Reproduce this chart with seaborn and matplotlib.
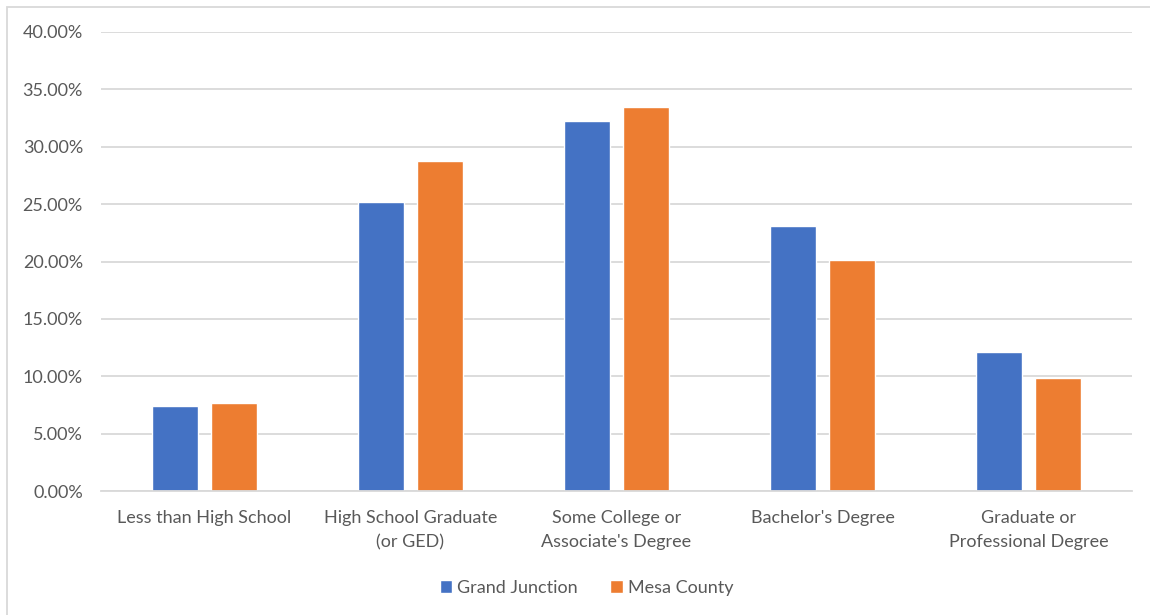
import matplotlib
matplotlib.use("Agg")
import matplotlib.pyplot as plt
from matplotlib.patches import Rectangle
from matplotlib.ticker import FuncFormatter
import seaborn as sns
import pandas as pd

# Educational attainment shares (percent of adults 25+)
categories = [
    "Less than High School",
    "High School Graduate\n(or GED)",
    "Some College or\nAssociate's Degree",
    "Bachelor's Degree",
    "Graduate or\nProfessional Degree",
]
grand_junction = [7.38, 25.18, 32.22, 23.08, 12.07]
mesa_county = [7.67, 28.80, 33.47, 20.17, 9.85]
series_names = ["Grand Junction", "Mesa County"]
y_ticks = [0, 5, 10, 15, 20, 25, 30, 35, 40]

df = pd.DataFrame({
    "Category": categories * 2,
    "Area": [series_names[0]] * len(categories) + [series_names[1]] * len(categories),
    "Share": grand_junction + mesa_county,
})

sns.set_theme(style="white")
plt.rcParams["font.family"] = ["Lato", "DejaVu Sans"]

TEXT = "#595959"
GRID = "#d9d9d9"
palette = {series_names[0]: "#4472C4", series_names[1]: "#ED7D31"}
FS = 13

fig = plt.figure(figsize=(11.5, 6.15), dpi=100)
ax = fig.add_axes([101 / 1150, 1 - 491 / 615, (1132 - 101) / 1150, (491 - 32) / 615])

sns.barplot(
    data=df, x="Category", y="Share", hue="Area", order=categories,
    hue_order=series_names, palette=palette, width=0.573, gap=0.22,
    saturation=1, ax=ax, legend=True,
)

ax.set_ylim(0, 40)
ax.set_xlim(-0.5, len(categories) - 0.5)
ax.set_yticks(y_ticks)
ax.yaxis.set_major_formatter(FuncFormatter(lambda v, _: f"{v:.2f}%"))
ax.grid(axis="y", color=GRID, linewidth=1.3)
ax.set_axisbelow(True)
for s in ["top", "right", "left"]:
    ax.spines[s].set_visible(False)
ax.spines["bottom"].set_color(GRID)
ax.spines["bottom"].set_linewidth(1.3)
ax.tick_params(axis="both", length=0, labelsize=FS, colors=TEXT)
ax.tick_params(axis="y", pad=13)
ax.tick_params(axis="x", pad=14)
for lbl in ax.get_xticklabels():
    lbl.set_linespacing(1.6)
ax.set_xlabel("")
ax.set_ylabel("")

leg = ax.legend(
    loc="center", bbox_to_anchor=(0.471, -0.211), ncol=2, frameon=False,
    fontsize=FS, handlelength=0.68, handleheight=0.68, handletextpad=0.3,
    columnspacing=1.8,
)
for t in leg.get_texts():
    t.set_color(TEXT)

# chart frame
fig.patches.append(Rectangle((7 / 1150, -0.1), 1.2, 1 - 7 / 615 + 0.1,
                             transform=fig.transFigure, fill=False,
                             edgecolor=GRID, linewidth=1.3))

fig.savefig("out.png", dpi=100, facecolor="white")
